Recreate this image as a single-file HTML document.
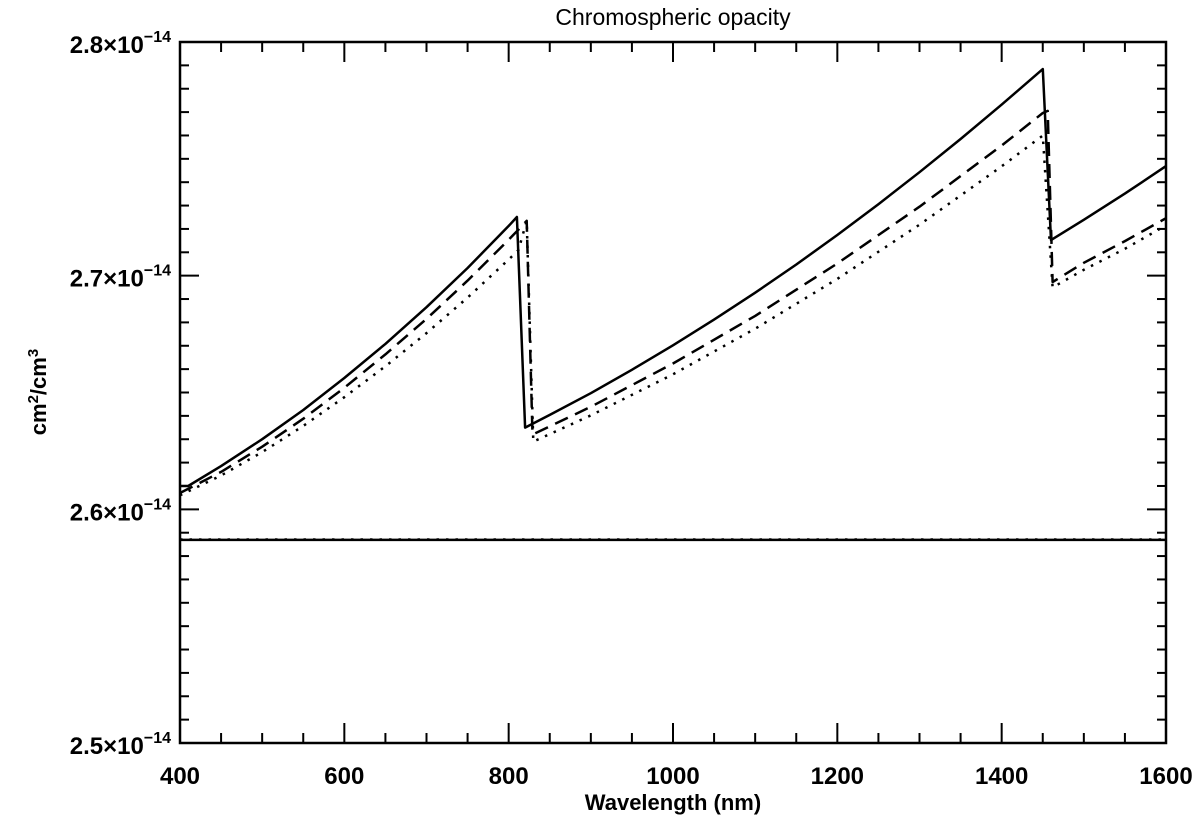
<!DOCTYPE html>
<html><head><meta charset="utf-8"><style>
html,body{margin:0;padding:0;background:#fff;}
svg{display:block;font-family:"Liberation Sans","DejaVu Sans",sans-serif;}
</style></head><body>
<svg id="chart" width="1200" height="820" viewBox="0 0 1200 820" xmlns="http://www.w3.org/2000/svg">
<text x="673" y="25" font-size="23" text-anchor="middle">Chromospheric opacity</text>
<text x="673" y="810" font-size="22" font-weight="bold" text-anchor="middle">Wavelength (nm)</text>
<text transform="translate(46,392) rotate(-90)" font-size="22" font-weight="bold" text-anchor="middle">cm<tspan dy="-8" font-size="15">2</tspan><tspan dy="8">/cm</tspan><tspan dy="-8" font-size="15">3</tspan></text>
<g id="marks"></g>
<rect x="180" y="42" width="986" height="701" fill="none" stroke="#000" stroke-width="2.5"/>
<g id="axes"></g>
</svg>
<script>
const xTicks = [400, 600, 800, 1000, 1200, 1400, 1600];
const yTicks = [2.5, 2.6, 2.7, 2.8];
const yTickLabels = ["2.5", "2.6", "2.7", "2.8"];
const solidX = [400,410,450,500,550,600,650,700,750,800,810,820,850,900,950,1000,1050,1100,1150,1200,1250,1300,1350,1400,1450,1460,1500,1550,1600];
const solidY = [2.610,2.610,2.6185,2.6300,2.6425,2.6562,2.6708,2.6865,2.7033,2.7213,2.7251,2.635,2.6404,2.6497,2.6597,2.6702,2.6812,2.6927,2.7048,2.7174,2.7306,2.7443,2.7585,2.7732,2.7884,2.7152,2.7239,2.7351,2.7469];
const dashX = [400,450,500,550,600,650,700,750,800,810,822,829,900,1000,1100,1200,1300,1400,1450,1456,1462,1500,1550,1600];
const dashY = [2.607,2.6160,2.6268,2.6388,2.6520,2.6663,2.6815,2.6979,2.7154,2.719,2.7235,2.632,2.6439,2.6624,2.6828,2.7052,2.7295,2.7557,2.7696,2.7705,2.6973,2.7055,2.7148,2.7246];
const dotX = [400,450,500,550,600,650,700,750,800,812,822,830,900,1000,1100,1200,1300,1400,1450,1462,1500,1550,1600];
const dotY = [2.606,2.6145,2.6245,2.6357,2.6480,2.6612,2.6754,2.6906,2.7069,2.711,2.7235,2.629,2.6402,2.6578,2.6773,2.6986,2.7218,2.7468,2.760,2.695,2.7025,2.7115,2.7215];
const baseX = [400, 1600];
const baseSolidY = [2.5869, 2.5869];
const baseDotY = [2.5871, 2.5871];

const NS = "http://www.w3.org/2000/svg";
const X0=180, X1=1166, Y0=743, Y1=42, XMIN=400, XMAX=1600, YMIN=2.5, YMAX=2.8;
function sx(v){return X0+(v-XMIN)/(XMAX-XMIN)*(X1-X0);}
function sy(v){return Y0-(v-YMIN)/(YMAX-YMIN)*(Y0-Y1);}
const marks=document.getElementById('marks');
const axes=document.getElementById('axes');
function mk(tag,attrs,parent){const e=document.createElementNS(NS,tag);for(const k in attrs)e.setAttribute(k,attrs[k]);parent.appendChild(e);return e;}
function line(xs,ys,dash,name){
  const d=xs.map((x,i)=>(i?'L':'M')+sx(x).toFixed(1)+','+sy(ys[i]).toFixed(1)).join(' ');
  const p=mk('path',{d:d,fill:'none',stroke:'#000','stroke-width':'2.5','stroke-linejoin':'round'},marks);
  if(dash)p.setAttribute('stroke-dasharray',dash);
  
  
}
line(solidX,solidY,null,'solid-series');
line(dashX,dashY,'14,8','dashed-series');
line(dotX,dotY,'2.5,7','dotted-series');
line(baseX,baseSolidY,null,'baseline-solid');
line(baseX,baseDotY,'2.5,7','baseline-dotted');

for(let v=XMIN; v<=XMAX; v+=50){
  const major = xTicks.indexOf(v)>=0;
  const L = major?20:10;
  const t1=mk('line',{x1:sx(v),x2:sx(v),y1:Y0,y2:Y0-L,stroke:'#000','stroke-width':'2'},axes);
  
  
  const t2=mk('line',{x1:sx(v),x2:sx(v),y1:Y1,y2:Y1+L,stroke:'#000','stroke-width':'2'},axes);
  
  
}
xTicks.forEach(v=>{
  const t=mk('text',{x:sx(v),y:784,'font-size':'24','font-weight':'bold','text-anchor':'middle'},axes);
  t.textContent=String(v);
  
  
});
for(let i=0;i<=30;i++){
  const v=YMIN+i*0.01;
  const major = i%10===0;
  const L = major?19:9;
  const t1=mk('line',{x1:X0,x2:X0+L,y1:sy(v),y2:sy(v),stroke:'#000','stroke-width':'2'},axes);
  
  
  const t2=mk('line',{x1:X1,x2:X1-L,y1:sy(v),y2:sy(v),stroke:'#000','stroke-width':'2'},axes);
  
  
}
yTicks.forEach((v,i)=>{
  const t=mk('text',{x:171,y:sy(v)+11,'font-size':'24','font-weight':'bold','text-anchor':'end'},axes);
  t.textContent=yTickLabels[i]+'\u00d710';
  const s=mk('tspan',{dy:'-11','font-size':'16'},t);
  s.textContent='\u221214';
  
  
});
</script>
</body></html>
